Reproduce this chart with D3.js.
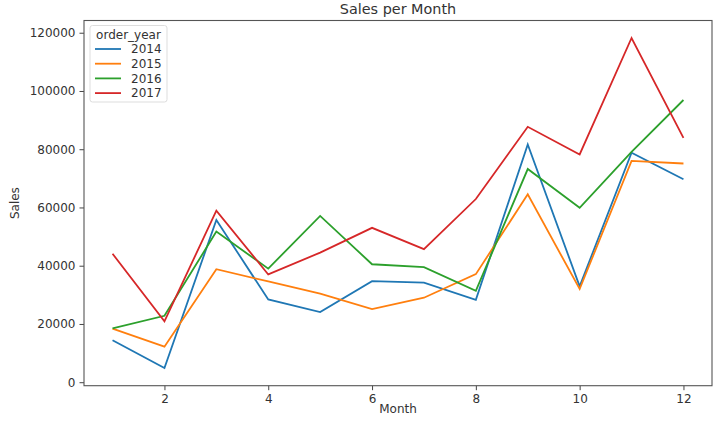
<!DOCTYPE html>
<html><head><meta charset="utf-8">
<script src="https://cdn.jsdelivr.net/npm/d3@7"></script>
<style>
body{margin:0;background:#fff;}
text{font-family:"DejaVu Sans",sans-serif;fill:#333;}
</style></head>
<body><svg id="c" width="720" height="423"></svg>
<script>
const months = [1,2,3,4,5,6,7,8,9,10,11,12];
const years = ["2014","2015","2016","2017"];
const colors = ["#1f77b4","#ff7f0e","#2ca02c","#d62728"];
const sales2014 = [14400,4900,55700,28400,24100,34700,34200,28300,81600,32900,78800,69700];
const sales2015 = [18400,12200,38800,34600,30400,25100,29000,37100,64500,32000,76000,75100];
const sales2016 = [18500,22800,51700,39000,57100,40500,39500,31400,73200,59900,79100,96900];
const sales2017 = [44100,20900,58900,37000,44500,53000,45700,62900,87700,78200,118200,83900];
const yTicks = [0,20000,40000,60000,80000,100000,120000];
const xTicks = [2,4,6,8,10,12];
const series = [sales2014,sales2015,sales2016,sales2017];

const svg = d3.select("#c");
const L=84,R=712,T=20.5,B=385.7;
const x = d3.scaleLinear().domain([0.45,12.55]).range([L,R]);
const y = d3.scaleLinear().domain([-1200,124200]).range([B,T]);

const gx = svg.append("g").attr("transform",`translate(0,${B})`)
  .call(d3.axisBottom(x).tickValues(xTicks).tickSize(4.5).tickPadding(4).tickFormat(d3.format("d")));
const gy = svg.append("g").attr("transform",`translate(${L},0)`)
  .call(d3.axisLeft(y).tickValues(yTicks).tickSize(4.5).tickPadding(4).tickFormat(d3.format("d")));
[gx,gy].forEach(g=>{g.select(".domain").remove();g.selectAll("line").attr("stroke","#444").attr("stroke-width",1);
  g.selectAll("text").attr("font-size",12).attr("fill","#333").style("font-family","DejaVu Sans");});

const line = d3.line().x((d,i)=>x(months[i])).y(d=>y(d));
series.forEach((s,k)=>{
  svg.append("path").datum(s).attr("d",line).attr("fill","none")
    .attr("stroke",colors[k]).attr("stroke-width",1.8).attr("stroke-linejoin","miter");
});

svg.append("rect").attr("x",L).attr("y",T).attr("width",R-L).attr("height",B-T)
  .attr("fill","none").attr("stroke","#555").attr("stroke-width",1.1);

svg.append("text").attr("x",(L+R)/2).attr("y",14).attr("text-anchor","middle")
  .attr("font-size",14.4).text("Sales per Month");
svg.append("text").attr("x",(L+R)/2).attr("y",413).attr("text-anchor","middle")
  .attr("font-size",12).text("Month");
svg.append("text").attr("transform",`translate(19,${(T+B)/2}) rotate(-90)`).attr("text-anchor","middle")
  .attr("font-size",12).text("Sales");

// legend
const lg = svg.append("g");
lg.append("rect").attr("x",90).attr("y",25.5).attr("width",77).attr("height",76.5).attr("rx",2.5)
  .attr("fill","#fff").attr("fill-opacity",0.8).attr("stroke","#ddd").attr("stroke-width",1);
lg.append("text").attr("x",128.5).attr("y",38.5).attr("text-anchor","middle").attr("font-size",12).text("order_year");
years.forEach((yr,i)=>{
  const yy = 49+i*14.7;
  lg.append("line").attr("x1",95).attr("x2",121).attr("y1",yy).attr("y2",yy)
    .attr("stroke",colors[i]).attr("stroke-width",1.8);
  lg.append("text").attr("x",131).attr("y",yy+4.3).attr("font-size",12).text(yr);
});
</script></body></html>
